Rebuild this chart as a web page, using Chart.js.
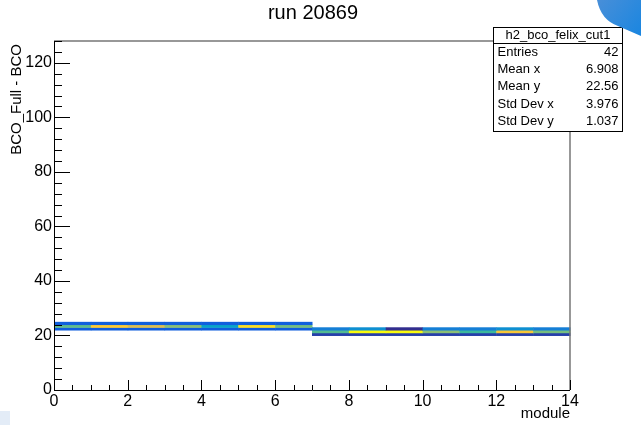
<!DOCTYPE html>
<html>
<head>
<meta charset="utf-8">
<script src="https://cdn.jsdelivr.net/npm/chart.js@4/dist/chart.umd.min.js"></script>
<style>
    html, body { margin: 0; padding: 0; background: #fff; }
    #wrap { position: relative; width: 641px; height: 425px; }
</style>
</head>
<body>
<div id="wrap"><canvas id="h2" width="641" height="425"></canvas></div>
<script>
/* -------- Histogram data -------- */
const modulesA = [0, 1, 2, 3, 4, 5, 6];          // x bins, first half
const modulesB = [7, 8, 9, 10, 11, 12, 13];      // x bins, second half
const bcoRowsA = [22, 23, 24];                   // y bins used by modulesA
const bcoRowsB = [20, 21, 22];                   // y bins used by modulesB

// cell contents (relative to max), one list per y row
const zA22 = [0.13, 0.13, 0.13, 0.13, 0.13, 0.13, 0.13];
const zA23 = [0.57, 0.88, 0.78, 0.63, 0.38, 0.93, 0.60];
const zA24 = [0.14, 0.14, 0.14, 0.14, 0.14, 0.14, 0.14];
const zB20 = [0.05, 0.05, 0.05, 0.05, 0.05, 0.05, 0.05];
const zB21 = [0.55, 1.00, 1.00, 0.63, 0.52, 0.86, 0.60];
const zB22 = [0.24, 0.30, 0.01, 0.24, 0.24, 0.30, 0.24];

const xTicks = [0, 2, 4, 6, 8, 10, 12, 14];
const yTicks = [0, 20, 40, 60, 80, 100, 120];

const statLabels = ['Entries', 'Mean x', 'Mean y', 'Std Dev x', 'Std Dev y'];
const statValues = ['42', '6.908', '22.56', '3.976', '1.037'];

/* -------- kBird palette -------- */
const BIRD = [
    [0.2082, 0.1664, 0.5293], [0.0592, 0.3599, 0.8684], [0.0780, 0.5041, 0.8385],
    [0.0232, 0.6419, 0.7914], [0.1802, 0.7178, 0.6425], [0.5301, 0.7492, 0.4662],
    [0.8186, 0.7328, 0.3498], [0.9956, 0.7862, 0.1968], [0.9764, 0.9832, 0.0539]
];
function birdColor(z) {
    const t = Math.max(0, Math.min(1, z)) * (BIRD.length - 1);
    const i = Math.min(BIRD.length - 2, Math.floor(t));
    const f = t - i;
    const c = BIRD[i].map((v, k) => Math.round(255 * (v + (BIRD[i + 1][k] - v) * f)));
    return `rgb(${c[0]}, ${c[1]}, ${c[2]})`;
}

const FONT = '"Liberation Sans", Arial, Helvetica, sans-serif';

const cells = [];
[[modulesA, bcoRowsA, [zA22, zA23, zA24]], [modulesB, bcoRowsB, [zB20, zB21, zB22]]]
    .forEach(([mods, rows, zs]) => {
        rows.forEach((yb, r) => {
            mods.forEach((xb, i) => cells.push({ x: xb, y: yb, z: zs[r][i] }));
        });
    });

/* -------- Plugin: COLZ cells, frame, ticks, titles, stats box -------- */
const rootStyle = {
    id: 'rootStyle',
    beforeDatasetsDraw(chart) {
        const { ctx, scales: { x, y } } = chart;
        ctx.save();
        cells.forEach(c => {
            const x0 = x.getPixelForValue(c.x), x1 = x.getPixelForValue(c.x + 1);
            const y0 = y.getPixelForValue(c.y + 1), y1 = y.getPixelForValue(c.y);
            ctx.fillStyle = birdColor(c.z);
            ctx.fillRect(x0, y0, x1 - x0 + 0.5, y1 - y0 + 0.5);
        });
        ctx.restore();
    },
    afterDraw(chart) {
        const { ctx, chartArea: a, scales: { x, y } } = chart;
        ctx.save();

        // frame
        ctx.strokeStyle = '#777';
        ctx.lineWidth = 1.5;
        ctx.beginPath();
        ctx.moveTo(a.left, a.top); ctx.lineTo(a.right, a.top); ctx.lineTo(a.right, a.bottom);
        ctx.stroke();

        // axes
        ctx.strokeStyle = '#000';
        ctx.lineWidth = 1;
        ctx.beginPath();
        ctx.moveTo(a.left + 0.5, a.top); ctx.lineTo(a.left + 0.5, a.bottom + 0.5);
        ctx.lineTo(a.right, a.bottom + 0.5);
        ctx.stroke();

        // y ticks (inward)
        ctx.beginPath();
        for (let v = 0; v <= 128; v += 4) {
            const py = Math.round(y.getPixelForValue(v)) + 0.5;
            const len = v % 20 === 0 ? 16 : 8;
            ctx.moveTo(a.left, py); ctx.lineTo(a.left + len, py);
        }
        // x ticks (inward)
        for (let v = 0; v <= 14; v += 0.5) {
            const px = Math.round(x.getPixelForValue(v)) + 0.5;
            const len = v % 2 === 0 ? 10 : 5;
            ctx.moveTo(px, a.bottom); ctx.lineTo(px, a.bottom - len);
        }
        ctx.stroke();

        // titles
        ctx.fillStyle = '#000';
        ctx.font = `20px ${FONT}`;
        ctx.textAlign = 'center';
        ctx.textBaseline = 'middle';
        ctx.fillText('run 20869', 313, 13);

        ctx.font = `15px ${FONT}`;
        ctx.textAlign = 'right';
        ctx.textBaseline = 'alphabetic';
        ctx.fillText('module', a.right, 418);

        ctx.save();
        ctx.translate(21, a.top + 3);
        ctx.rotate(-Math.PI / 2);
        ctx.textAlign = 'right';
        ctx.fillText('BCO_Full - BCO', 0, 0);
        ctx.restore();

        // stats box
        const bx = 493.5, by = 27.5, bw = 129, bh = 104;
        ctx.fillStyle = '#fff';
        ctx.fillRect(bx, by, bw, bh);
        ctx.strokeStyle = '#000';
        ctx.lineWidth = 1;
        ctx.strokeRect(bx, by, bw, bh);
        ctx.beginPath();
        ctx.moveTo(bx, 43.5); ctx.lineTo(bx + bw, 43.5);
        ctx.stroke();

        ctx.fillStyle = '#000';
        ctx.font = `13px ${FONT}`;
        ctx.textBaseline = 'middle';
        ctx.textAlign = 'center';
        ctx.fillText('h2_bco_felix_cut1', bx + bw / 2, 35.5);
        statLabels.forEach((lab, i) => {
            const ty = 52.5 + i * 17.2;
            ctx.textAlign = 'left';
            ctx.fillText(lab, bx + 4, ty);
            ctx.textAlign = 'right';
            ctx.fillText(statValues[i], bx + bw - 4, ty);
        });

        // screenshot decorations
        const g = ctx.createLinearGradient(595, 0, 641, 35);
        g.addColorStop(0, '#4a8fd8');
        g.addColorStop(1, '#1a86e0');
        ctx.fillStyle = g;
        ctx.beginPath();
        ctx.moveTo(597, 0);
        ctx.quadraticCurveTo(601, 20, 618, 26);
        ctx.lineTo(641, 36);
        ctx.lineTo(641, 0);
        ctx.closePath();
        ctx.fill();
        ctx.fillStyle = '#e3ecf7';
        ctx.fillRect(0, 411, 10, 14);

        ctx.restore();
    }
};

const tickFont = { family: FONT, size: 16 };

new Chart(document.getElementById('h2').getContext('2d'), {
    type: 'scatter',
    data: { datasets: [{ data: [], pointRadius: 0 }] },
    options: {
        responsive: false,
        animation: false,
        layout: { padding: { top: 41, right: 71, left: 0, bottom: 0 } },
        plugins: { legend: { display: false }, tooltip: { enabled: false } },
        scales: {
            x: {
                type: 'linear', min: 0, max: 14,
                afterFit: s => { s.height = 35; },
                afterBuildTicks: s => { s.ticks = xTicks.map(v => ({ value: v })); },
                grid: { display: false, drawTicks: false }, border: { display: false },
                ticks: { color: '#000', font: tickFont, padding: 2, maxRotation: 0, includeBounds: false }
            },
            y: {
                type: 'linear', min: 0, max: 128,
                afterFit: s => { s.width = 54; },
                afterBuildTicks: s => { s.ticks = yTicks.map(v => ({ value: v })); },
                grid: { display: false, drawTicks: false }, border: { display: false },
                ticks: { color: '#000', font: tickFont, padding: 2, includeBounds: false }
            }
        }
    },
    plugins: [rootStyle]
});
</script>
</body>
</html>
